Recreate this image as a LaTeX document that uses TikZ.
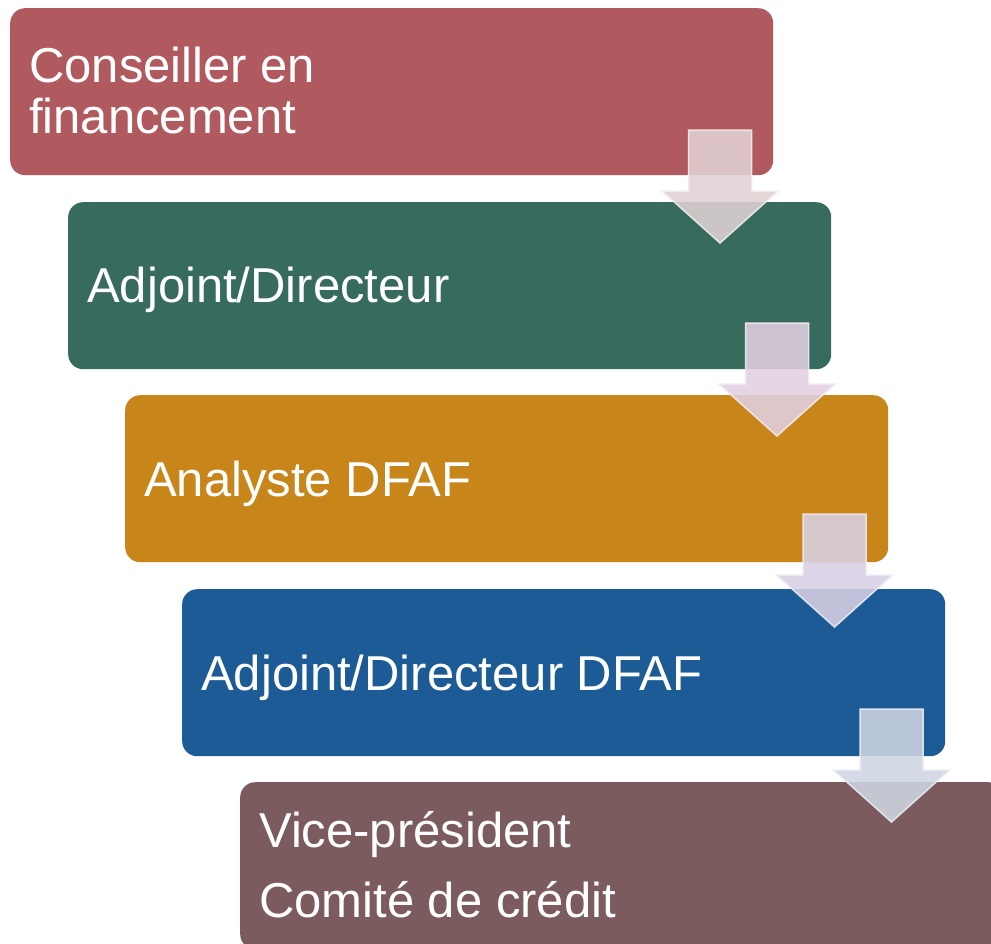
\documentclass[tikz,border=0pt]{standalone}
\usepackage{fontspec}
\setmainfont{Liberation Sans}
\definecolor{cA}{HTML}{B05A60}
\definecolor{cB}{HTML}{376B5E}
\definecolor{cC}{HTML}{C8861A}
\definecolor{cD}{HTML}{1C5B96}
\definecolor{cE}{HTML}{7B5B5E}
\definecolor{aA}{HTML}{E1D2D5}
\definecolor{aB}{HTML}{E2D0E2}
\definecolor{aC}{HTML}{D8D0E4}
\definecolor{aD}{HTML}{CFD5E3}
\tikzset{
  stepbox/.style={rounded corners=15bp, draw=none, anchor=north west,
    minimum width=763bp, minimum height=167bp, inner sep=0pt},
  label/.style={anchor=base west, inner sep=0pt, text=white,
    font=\fontsize{49bp}{51bp}\selectfont},
  darrow/.pic={\path[fill=#1, fill opacity=0.88, draw=white!55!#1, draw opacity=0.9, line width=1.5bp]
    (-31.5,0) -- (31.5,0) -- (31.5,61) -- (58,61) -- (0,113) -- (-58,61) -- (-31.5,61) -- cycle;}
}
\begin{document}
\begin{tikzpicture}[x=1bp,y=-1bp]
\useasboundingbox (0,0) rectangle (991,944);
\clip (0,0) rectangle (991,944);
\fill[white] (0,0) rectangle (991,944);
\node[stepbox, fill=cA] (b1) at (10,8) {};
\node[stepbox, fill=cB] (b2) at (68,202) {};
\node[stepbox, fill=cC] (b3) at (125,395) {};
\node[stepbox, fill=cD] (b4) at (182,589) {};
\node[stepbox, fill=cE] (b5) at (240,782) {};
\node[label] (t1a) at (29,82) {Conseiller en};
\node[label] (t1b) at (29,133) {financement};
\node[label] (t2) at (87,302) {Adjoint/Directeur};
\node[label] (t3) at (144,496) {Analyste DFAF};
\node[label] (t4) at (201,690) {Adjoint/Directeur DFAF};
\node[label] (t5a) at (259,847) {Vice-président};
\node[label] (t5b) at (259,917) {Comité de crédit};
\coordinate (a1) at (720,130);
\coordinate (a2) at (777,323);
\coordinate (a3) at (834.5,514);
\coordinate (a4) at (891.5,709);
\pic at (a1) {darrow=aA};
\pic at (a2) {darrow=aB};
\pic at (a3) {darrow=aC};
\pic at (a4) {darrow=aD};
\end{tikzpicture}
\end{document}
